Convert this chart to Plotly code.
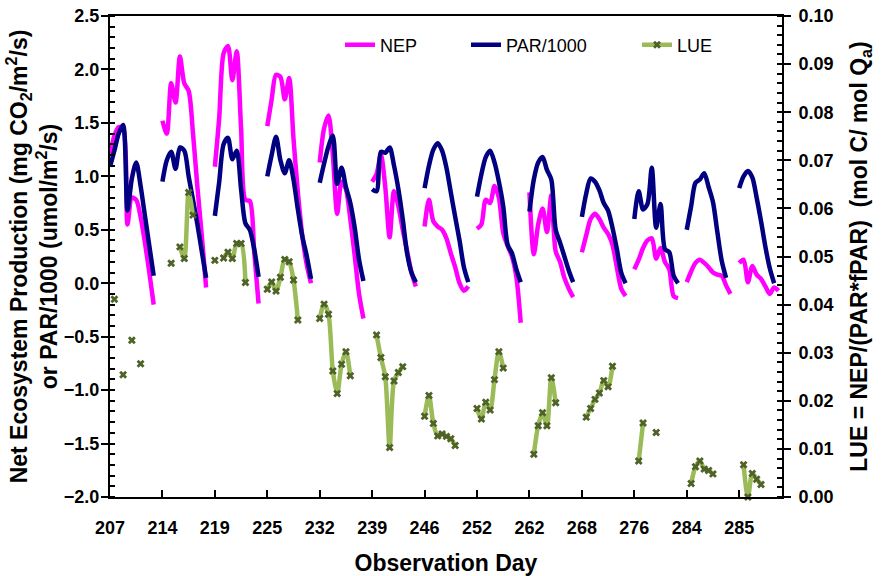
import plotly.graph_objects as go

# ---------------- data ----------------
day_labels = ["207", "214", "219", "225", "232", "239", "246", "252",
              "262", "268", "276", "284", "285"]
slots_per_day = 12

# Net Ecosystem Production (mg CO2/m2/s), one row per observation day, None = gap
nep = [
    1.20, 1.38, 1.46, 1.45, 0.55, 0.80, 0.78, 0.62, 0.38, 0.10, -0.20, None,   # 207
    1.52, 1.40, 1.87, 1.69, 2.12, 1.87, 1.80, 1.40, 0.90, 0.45, -0.04, None,   # 214
    1.09, 1.55, 2.15, 2.22, 1.90, 2.17, 1.45, 0.78, 0.77, 0.30, -0.19, None,   # 219
    1.47, 1.72, 1.95, 1.93, 1.72, 1.92, 1.35, 0.85, 0.45, 0.18, 0.00, None,    # 225
    1.13, 1.45, 1.57, 1.20, 0.65, 0.95, 0.88, 0.60, 0.26, -0.10, -0.33, None,  # 232
    0.95, 1.02, 1.20, 0.90, 0.43, 0.86, 0.72, 0.50, 0.30, 0.10, -0.03, None,   # 239
    0.53, 0.78, 0.58, 0.53, 0.50, 0.42, 0.28, 0.15, 0.00, -0.07, -0.03, None,  # 246
    0.51, 0.55, 0.78, 0.75, 0.91, 0.80, 0.47, 0.35, 0.25, 0.06, -0.37, None,   # 252
    0.85, 0.27, 0.55, 0.70, 0.48, 0.82, 0.30, 0.20, 0.05, -0.05, -0.13, None,  # 262
    0.29, 0.45, 0.60, 0.65, 0.60, 0.52, 0.46, 0.36, 0.15, -0.05, -0.12, None,  # 268
    0.13, 0.22, 0.33, 0.40, 0.42, 0.23, 0.33, 0.20, 0.13, -0.12, -0.14, None,  # 276
    0.01, 0.11, 0.19, 0.22, 0.19, 0.15, 0.10, 0.08, 0.07, -0.02, -0.10, None,  # 284
    0.19, 0.22, 0.01, 0.16, 0.08, 0.04, -0.03, -0.10, -0.04, -0.07,            # 285
]

# PAR/1000 (umol/m2/s)
par = [
    1.09, 1.24, 1.40, 1.48, 0.68, 0.98, 1.13, 0.91, 0.63, 0.35, 0.07, None,   # 207
    0.95, 1.15, 1.23, 1.07, 1.27, 1.24, 1.00, 0.78, 0.55, 0.30, 0.05, None,   # 214
    0.63, 0.95, 1.30, 1.36, 1.16, 1.24, 0.88, 0.56, 0.50, 0.32, 0.06, None,   # 219
    1.00, 1.20, 1.37, 1.15, 1.03, 1.15, 0.97, 0.69, 0.44, 0.26, 0.04, None,   # 225
    0.94, 1.12, 1.28, 1.38, 0.93, 1.08, 0.90, 0.75, 0.52, 0.22, 0.02, None,   # 232
    0.88, 0.86, 1.23, 1.22, 1.27, 1.10, 0.88, 0.60, 0.28, 0.10, 0.01, None,   # 239
    0.89, 1.10, 1.25, 1.31, 1.24, 1.08, 0.85, 0.62, 0.40, 0.15, 0.01, None,   # 246
    0.81, 1.02, 1.18, 1.24, 1.13, 0.95, 0.72, 0.36, 0.28, 0.13, 0.01, None,   # 252
    0.67, 0.97, 1.13, 1.18, 1.06, 0.97, 0.50, 0.38, 0.25, 0.12, 0.01, None,   # 262
    0.62, 0.84, 0.98, 0.95, 0.87, 0.75, 0.68, 0.52, 0.32, 0.10, 0.00, None,   # 268
    0.60, 0.86, 0.69, 0.74, 1.08, 0.52, 0.74, 0.32, 0.29, 0.07, 0.00, None,   # 276
    0.50, 0.72, 0.94, 0.97, 1.03, 0.90, 0.76, 0.48, 0.21, 0.05, None, None,   # 284
    0.89, 1.00, 1.05, 0.99, 0.80, 0.58, 0.34, 0.14, 0.00, None,               # 285
]

# LUE = NEP/(PAR*fPAR) (mol C / mol Qa)
lue = [
    None, 0.0411, None, 0.0254, None, 0.0326, None, 0.0277, None, None, None, None,        # 207
    None, None, 0.0486, None, 0.0520, 0.0496, 0.0633, 0.0586, None, None, None, None,      # 214
    0.0492, None, 0.0497, 0.0509, 0.0496, 0.0527, 0.0527, 0.0446, None, None, None, None,  # 219
    0.0432, 0.0447, 0.0428, 0.0457, 0.0494, 0.0489, 0.0451, 0.0368, None, None, None, None,  # 225
    0.0371, 0.0401, 0.0380, 0.0262, 0.0215, 0.0276, 0.0302, 0.0252, None, None, None, None,  # 232
    None, 0.0337, 0.0290, 0.0250, 0.0103, 0.0241, 0.0259, 0.0271, None, None, None, None,  # 239
    0.0168, 0.0211, 0.0153, 0.0127, 0.0131, 0.0126, 0.0121, 0.0107, None, None, None, None,  # 246
    0.0184, 0.0162, 0.0197, 0.0181, 0.0244, 0.0302, 0.0268, None, None, None, None, None,  # 252
    None, 0.0089, 0.0148, 0.0175, 0.0148, 0.0248, 0.0196, None, None, None, None, None,    # 262
    None, 0.0166, 0.0184, 0.0203, 0.0216, 0.0242, 0.0229, 0.0272, None, None, None, None,  # 268
    None, 0.0075, 0.0154, None, None, 0.0134, None, None, None, None, None, None,          # 276
    None, 0.0028, 0.0063, 0.0075, 0.0058, 0.0055, 0.0048, None, None, None, None, None,    # 284
    None, 0.0067, 0.0000, 0.0049, 0.0037, 0.0026, None, None, None, None,                  # 285
]

obs = list(range(len(nep)))
tick_positions = [i * slots_per_day for i in range(len(day_labels))]

FONT = "Liberation Sans, Arial, sans-serif"
PLOT_L, PLOT_R, PLOT_T, PLOT_B = 110, 782, 16, 497

fig = go.Figure()
fig.add_trace(go.Scatter(
    x=obs, y=nep, name="NEP", mode="lines", legend="legend",
    line=dict(color="#FF00FF", width=4.5, shape="spline", smoothing=0.8)))
fig.add_trace(go.Scatter(
    x=obs, y=par, name="PAR/1000", mode="lines", legend="legend2",
    line=dict(color="#000080", width=4.5, shape="spline", smoothing=0.8)))
fig.add_trace(go.Scatter(
    x=obs, y=lue, name="LUE", mode="lines+markers", yaxis="y2", legend="legend3",
    cliponaxis=False,
    line=dict(color="#9BBB59", width=4.5, shape="spline", smoothing=0.8),
    marker=dict(symbol="x", size=7, color="#4F6228")))

tickfont = dict(family=FONT, size=18, color="black", weight="bold")
titlefont = dict(family=FONT, size=23, color="black", weight="bold")
legfont = dict(family=FONT, size=18, color="black")

def leg(xpx, ypx=45):
    return dict(x=(xpx - PLOT_L) / (PLOT_R - PLOT_L),
                y=(PLOT_B - ypx) / (PLOT_B - PLOT_T),
                xref="paper", yref="paper",
                xanchor="left", yanchor="middle", orientation="h",
                bgcolor="rgba(0,0,0,0)", font=legfont, itemwidth=30)

fig.update_layout(
    width=893, height=576,
    margin=dict(l=PLOT_L, r=893 - PLOT_R, t=PLOT_T, b=576 - PLOT_B, autoexpand=False),
    plot_bgcolor="white", paper_bgcolor="white",
    font=dict(family=FONT, color="black"),
    showlegend=True,
    legend=leg(340), legend2=leg(466), legend3=leg(637),
    xaxis=dict(
        range=[0, 153.8], tickmode="array", tickvals=tick_positions, ticktext=day_labels,
        ticks="inside", ticklen=7, tickwidth=2, tickcolor="black",
        showline=True, linewidth=2, linecolor="black", mirror=True,
        showgrid=False, zeroline=False, tickfont=tickfont, ticklabelstandoff=13,
        automargin=False,
        title=dict(text="Observation Day", font=titlefont, standoff=18)),
    yaxis=dict(
        range=[-2, 2.5], dtick=0.5, tick0=0, tickformat=".1f",
        ticks="outside", ticklen=7, tickwidth=2, tickcolor="black",
        minor=dict(dtick=0.1, ticks="inside", ticklen=5, tickwidth=1.5, tickcolor="black"),
        showline=True, linewidth=2, linecolor="black",
        showgrid=False, zeroline=False, tickfont=tickfont, automargin=False,
        ticklabelstandoff=-2,
        title=dict(text="Net Ecosystem Production (mg CO<sub>2</sub>/m<sup>2</sup>/s)<br>or PAR/1000 (umol/m<sup>2</sup>/s)",
                   font=titlefont, standoff=0)),
    yaxis2=dict(
        overlaying="y", side="right", range=[0, 0.1], dtick=0.01, tick0=0, tickformat=".2f",
        ticks="outside", ticklen=7, tickwidth=2, tickcolor="black",
        minor=dict(dtick=0.002, ticks="inside", ticklen=5, tickwidth=1.5, tickcolor="black"),
        showline=True, linewidth=2, linecolor="black",
        showgrid=False, zeroline=False, tickfont=tickfont, automargin=False,
        ticklabelstandoff=4,
        title=dict(text="LUE = NEP/(PAR*fPAR)  (mol C/ mol Q<sub>a</sub>)",
                   font=titlefont, standoff=18)),
)

fig.write_html("out.html")
